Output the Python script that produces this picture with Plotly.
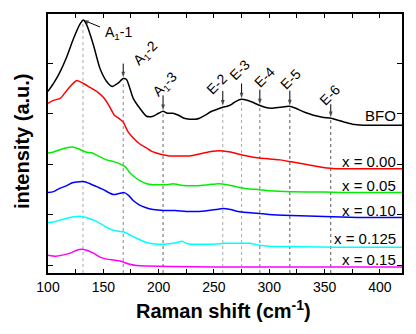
import numpy as np
import plotly.graph_objects as go

# ---- data (Raman shift in cm^-1, intensity in offset arbitrary units) ----
bfo_x = [100, 105, 111, 117, 123, 129, 132, 135, 141, 147, 153, 158, 163, 168, 171, 177, 183, 189, 195, 200, 204,
         208, 213, 218, 223, 228, 233, 237, 242, 248, 253, 258, 262, 266, 270, 275, 280, 285, 291, 296, 302, 310,
         318, 324, 332, 340, 348, 356, 362, 368, 375, 385, 400, 420]
bfo_y = [175, 183, 195, 210, 228, 243, 247, 242, 222, 198, 185, 180, 183, 188, 187, 168, 158, 150, 150, 153, 155,
         153, 153, 151, 148, 147, 147, 148, 151, 155, 157, 159, 160, 162, 165, 167, 166, 164, 161, 159, 158, 159,
         160, 158, 154, 151, 149, 148, 146, 144, 142, 141, 141, 141]

x000_x = [100, 105, 111, 115, 120, 126, 132, 138, 144, 150, 155, 160, 165, 168, 172, 177, 183, 189, 195, 201, 210,
          220, 228, 237, 245, 252, 258, 265, 272, 280, 291, 300, 310, 320, 330, 340, 350, 360, 380, 420]
x000_y = [163, 166, 168, 173, 180, 186, 183, 179, 175, 169, 161, 151, 147, 144, 135, 128, 122, 118, 114, 112, 110,
          110, 110, 112, 114, 115, 115, 114, 112, 110, 108, 107, 106, 104, 102, 100, 98, 97, 97, 97]

x005_x = [100, 105, 110, 116, 122, 128, 134, 140, 147, 153, 160, 165, 170, 174, 178, 183, 189, 195, 201, 208, 213,
          218, 225, 235, 245, 254, 262, 270, 280, 291, 300, 320, 350, 380, 420]
x005_y = [113, 114, 116, 118, 119, 117, 114, 113, 109, 106, 104, 102, 99, 93, 89, 85, 82, 81, 81, 81, 82,
          81, 80, 80, 81, 82, 81, 79, 77, 76, 75, 74, 73.5, 73, 73]

x010_x = [100, 105, 110, 117, 122, 128, 133, 138, 144, 150, 155, 159, 164, 169, 173, 177, 182, 188, 195, 205, 215,
          225, 235, 245, 252, 258, 265, 272, 280, 291, 300, 320, 350, 380, 420]
x010_y = [73, 74, 77, 80, 83, 84, 84, 82, 79, 76, 73, 71, 72, 73, 70, 65, 61, 58, 56, 55, 55,
          54, 54, 55, 56, 57, 56, 54, 53, 52, 51, 50, 49, 48, 48]

x0125_x = [100, 107, 113, 120, 126, 131, 137, 142, 147, 153, 159, 164, 168, 173, 180, 186, 192, 200, 210, 216, 221,
           226, 232, 240, 250, 260, 270, 282, 291, 300, 330, 360, 420]
x0125_y = [43, 44, 46, 48, 49, 49, 47, 45, 42, 38, 35, 34, 33.5, 31, 27, 24, 22, 21, 21.5, 22.5, 24,
           21.5, 21, 21, 21, 22, 22, 22, 20, 19, 18.5, 18, 18]

x015_x = [100, 107, 113, 120, 126, 130, 135, 141, 147, 153, 159, 165, 168, 173, 180, 190, 210, 250, 300, 420]
x015_y = [10, 9, 10, 12, 15, 16, 15, 12, 8, 6, 5, 4, 3, 1, -0.5, -1, -1.5, -2, -2, -2]

series_names = ["BFO", "x = 0.00", "x = 0.05", "x = 0.10", "x = 0.125", "x = 0.15"]
series_x = [bfo_x, x000_x, x005_x, x010_x, x0125_x, x015_x]
series_y = [bfo_y, x000_y, x005_y, x010_y, x0125_y, x015_y]
series_colors = ["#000000", "#ff0000", "#00ee00", "#0000ff", "#00ffff", "#ff00ff"]
label_y = [151, 104, 80, 55, 27, 6]

peak_labels = ["A<sub>1</sub>-1", "A<sub>1</sub>-2", "A<sub>1</sub>-3", "E-2", "E-3", "E-4", "E-5", "E-6"]
peak_pos = [131.6, 168, 204, 258, 275, 291.5, 318.6, 355.6]

y_tick_step = 50.75
y_bottom = -8
px_per_x = 354 / 320.0  # pixels per cm^-1 unit on the x axis

fig = go.Figure()

bfo_at_peak = np.interp(peak_pos, bfo_x, bfo_y)

# dotted guide lines from BFO peaks down to the axis
line_colors = ["#aaaaaa", "#888888", "#666666", "#aaaaaa", "#aaaaaa", "#777777", "#555555", "#555555"]
for p, v, c in zip(peak_pos, bfo_at_peak, line_colors):
    fig.add_trace(go.Scatter(x=[p, p], y=[y_bottom, v - 2], mode="lines",
                             line=dict(color=c, width=1, dash="dot"),
                             showlegend=False, hoverinfo="skip"))

for name, xs, ys, col in zip(series_names, series_x, series_y, series_colors):
    fig.add_trace(go.Scatter(x=xs, y=ys, mode="lines", name=name,
                             line=dict(color=col, width=1.5, shape="spline", smoothing=0.6),
                             showlegend=False))

# arrows (tail offset in pixels: dx right, dy up) drawn as line + arrow marker
arrow_tails = [(17, -7), (0, 14), (0, 15), (0, 15), (0, 15), (0, 15), (0, 15), (0, 13)]
arrow_gap = [0.5, 1, 1, 1.5, 1, 1, 1, 1]
for p, v, (dx, dy), g in zip(peak_pos, bfo_at_peak, arrow_tails, arrow_gap):
    tip_y = v + g
    fig.add_trace(go.Scatter(x=[p + dx / px_per_x, p], y=[tip_y + dy, tip_y], mode="lines+markers",
                             line=dict(color="black", width=1),
                             marker=dict(symbol="arrow", size=[0, 6], angleref="previous", color="black",
                                         line=dict(width=0)),
                             showlegend=False, hoverinfo="skip"))

font_family = "Arial, Liberation Sans, sans-serif"

# series labels at right
for name, ly in zip(series_names, label_y):
    fig.add_annotation(x=416, y=ly, text=name, showarrow=False, xanchor="right", yanchor="middle",
                       font=dict(family=font_family, size=15, color="black"))

# peak annotation texts (centres given as pixel offsets from the peak point: right, up)
text_offsets = [(36, -13), (22, 25), (2, 26), (-6, 23), (-2, 29), (5, 28), (1, 27), (-1, 23)]
text_angles = [0, -45, -45, -45, -45, -45, -45, -45]
for lab, p, v, (dx, dy), ang in zip(peak_labels, peak_pos, bfo_at_peak, text_offsets, text_angles):
    fig.add_annotation(x=p, y=v, text=lab, showarrow=False, xanchor="center", yanchor="middle",
                       xshift=dx, yshift=dy, textangle=ang,
                       font=dict(family=font_family, size=14, color="black"))

# axis titles
fig.add_annotation(xref="paper", yref="paper", x=0.497, y=-0.142, text="<b>Raman shift (cm<sup>-1</sup>)</b>",
                   showarrow=False, xanchor="center", yanchor="middle",
                   font=dict(family=font_family, size=20, color="black"))
fig.add_annotation(xref="paper", yref="paper", x=-0.073, y=0.51, text="<b>intensity (a.u.)</b>",
                   showarrow=False, xanchor="center", yanchor="middle", textangle=-90,
                   font=dict(family=font_family, size=20, color="black"))

fig.update_layout(
    width=416, height=334,
    margin=dict(l=48, r=14, t=12, b=61),
    paper_bgcolor="white", plot_bgcolor="white",
    font=dict(family=font_family, size=14, color="black"),
    showlegend=False,
)
fig.update_xaxes(range=[100, 420], tickmode="linear", tick0=100, dtick=50,
                 ticks="inside", ticklen=4, tickwidth=1, tickcolor="black",
                 minor=dict(dtick=25, ticks="inside", ticklen=4, tickcolor="black"),
                 showline=True, linecolor="black", linewidth=1.5, mirror="ticks",
                 showgrid=False, zeroline=False, tickfont=dict(size=14))
fig.update_yaxes(range=[y_bottom, 253], tickmode="linear", tick0=0, dtick=y_tick_step,
                 ticks="inside", ticklen=5, tickwidth=1, tickcolor="black",
                 showticklabels=False,
                 showline=True, linecolor="black", linewidth=1.5, mirror="ticks",
                 showgrid=False, zeroline=False)

fig.write_html("out.html", config={"displayModeBar": False},
               post_script="document.body.style.margin='0px';")
